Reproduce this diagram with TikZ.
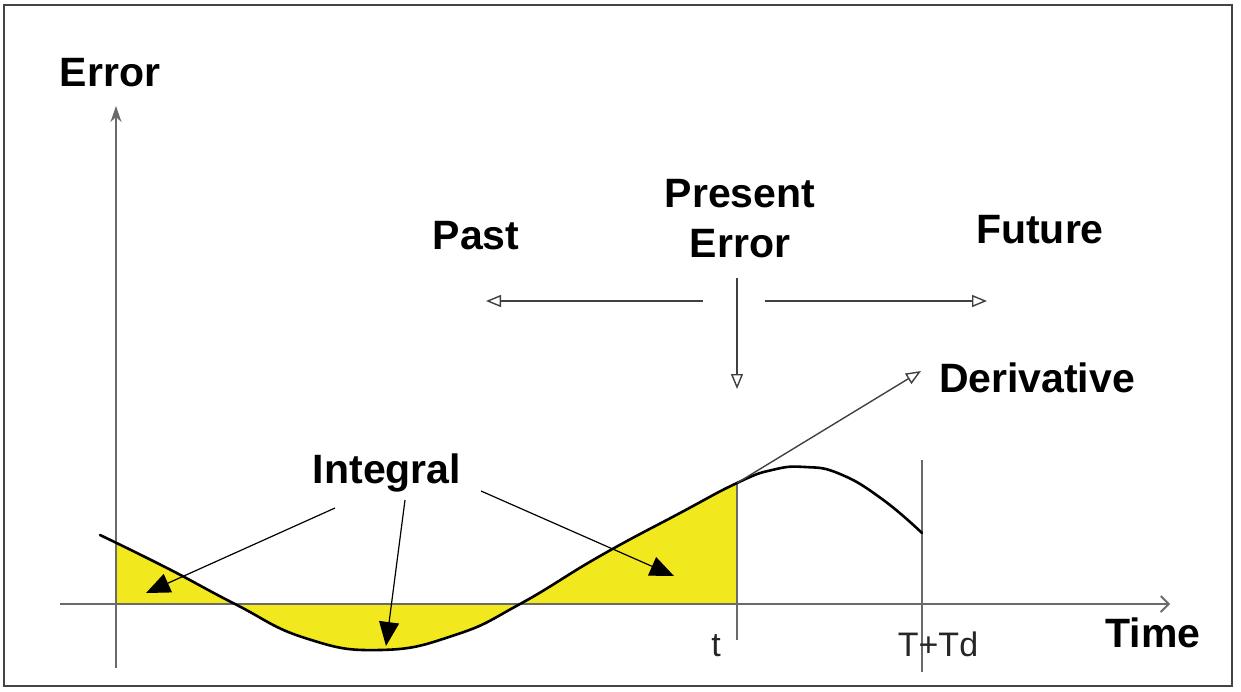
\documentclass[tikz,border=0pt]{standalone}
\usepackage{fontspec}
\setmainfont{Liberation Sans}
\usetikzlibrary{arrows.meta}
\definecolor{fillyel}{HTML}{F2E81E}
\definecolor{axgray}{HTML}{6A6A6A}
\definecolor{framegray}{HTML}{444444}
\tikzset{
  bold label/.style={font=\fontsize{41}{44}\selectfont\bfseries, inner sep=0pt, anchor=base},
  thin label/.style={font=\fontsize{34}{38}\selectfont, inner sep=0pt, anchor=base, text=black!85},
  axis line/.style={axgray, line width=1.8pt},
  guide/.style={black!75, line width=1.4pt, -{Triangle[open, length=15pt, width=12pt, line width=1.4pt]}},
  pointer/.style={black, line width=1.2pt, -{Triangle[length=24pt, width=20pt]}},
  curveline/.style={black, line width=2.6pt, line cap=round},
  marker/.style={axgray, line width=1.8pt}
}
\begin{document}
\begin{tikzpicture}[x=1pt, y=-1pt]
\useasboundingbox (0,0) rectangle (1241,691);
\draw[framegray, line width=1.5pt] (4,5) rectangle (1232,686);

% yellow area
\begin{scope}
\clip (116,0) rectangle (737,700);
\fill[fillyel] (100,604) -- plot[smooth, tension=0.8] coordinates {(100,535) (167,568) (235,604) (305,638) (380,650) (455,635) (520,604) (600,556) (680,513) (737,483) (772,470) (805,467) (840,474) (882,499) (922,533)} -- (922,604) -- cycle;
\end{scope}

% axes
\coordinate (yb) at (116,668);
\coordinate (yt) at (116,106);
\coordinate (xl) at (60,604);
\coordinate (xr) at (1170,604);
\draw[axis line, -{Stealth[length=16pt, width=11pt, inset=5pt]}] (yb) -- (yt);
\draw[axis line, -{Straight Barb[length=8pt, width=16pt, line width=1.8pt]}] (xl) -- (xr);

% markers t and T+Td
\coordinate (tt) at (737,483);
\coordinate (tb) at (737,640);
\coordinate (dt) at (922,460);
\coordinate (db) at (922,672);
\draw[marker] (tt) -- (tb);
\draw[marker] (dt) -- (db);

% curve
\draw[curveline] plot[smooth, tension=0.8] coordinates {(100,535) (167,568) (235,604) (305,638) (380,650) (455,635) (520,604) (600,556) (680,513) (737,483) (772,470) (805,467) (840,474) (882,499) (922,533)};

% labels
\node[bold label] (error) at (110,86) {Error};
\node[bold label] (time) at (1153,647) {Time};
\node[thin label] (tl) at (716,656) {t};
\node[thin label] (ttd) at (938,656) {T+Td};
\node[bold label] (past) at (476,249) {Past};
\node[bold label] (present) at (740,207) {Present};
\node[bold label] (perr) at (740,257) {Error};
\node[bold label] (future) at (1040,243) {Future};
\node[bold label] (deriv) at (1037,392) {Derivative};
\node[bold label] (integ) at (387,483) {Integral};

% guide arrows
\coordinate (pl) at (703,301);
\coordinate (pe) at (486,301);
\coordinate (fl) at (765,301);
\coordinate (fe) at (987,301);
\coordinate (ds) at (737,278);
\coordinate (de) at (737,389);
\coordinate (dv) at (921,371);
\draw[guide] (pl) -- (pe);
\draw[guide] (fl) -- (fe);
\draw[guide] (ds) -- (de);
\draw[guide] (tt) -- (dv);

% integral pointers
\coordinate (i1s) at (335,508);
\coordinate (i1e) at (146,593);
\coordinate (i2s) at (405,500);
\coordinate (i2e) at (386,646);
\coordinate (i3s) at (481,491);
\coordinate (i3e) at (674,576);
\draw[pointer] (i1s) -- (i1e);
\draw[pointer] (i2s) -- (i2e);
\draw[pointer] (i3s) -- (i3e);
\end{tikzpicture}
\end{document}
